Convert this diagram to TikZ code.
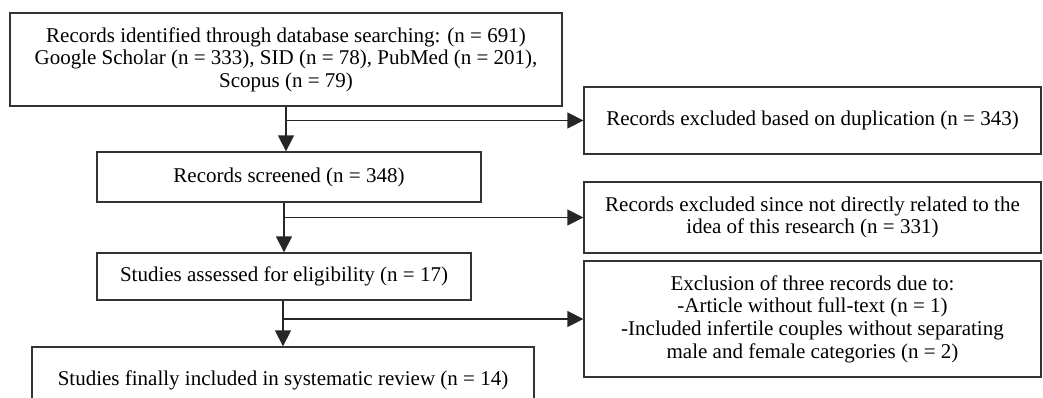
\documentclass[tikz,border=0pt]{standalone}
\usepackage{fontspec}
\setmainfont{Liberation Serif}
\usetikzlibrary{arrows.meta}
\begin{document}
\begin{tikzpicture}[x=1pt,y=-1pt,
  box/.style={draw=black!80,line width=1.3pt,inner sep=0pt,align=center,
    font=\fontsize{21}{22.6}\selectfont},
  arr/.style={draw=black!85,line width=1.3pt,-{Triangle[width=16pt,length=16pt]}},
  ln/.style={draw=black!85,line width=1.3pt}]
\useasboundingbox (0,0) rectangle (1043,397);
\clip (0,0) rectangle (1043,397);
\node[box,minimum width=552pt,minimum height=93pt] (b1) at (286,59.5)
  {Records identified through database searching: (n = 691)\\Google Scholar (n = 333), SID (n = 78), PubMed (n = 201),\\Scopus (n = 79)};
\node[box,minimum width=384pt,minimum height=50pt] (b2) at (289,177) {Records screened (n = 348)};
\node[box,minimum width=374pt,minimum height=47pt] (b3) at (284,276.5) {Studies assessed for eligibility (n = 17)};
\node[box,minimum width=502pt,minimum height=66pt] (b4) at (283,380) {Studies finally included in systematic review (n = 14)};
\node[box,minimum width=457pt,minimum height=67pt] (d1) at (812.5,120.5) {Records excluded based on duplication (n = 343)};
\node[box,minimum width=457pt,minimum height=71pt] (d2) at (812.5,217.5) {Records excluded since not directly related to the\\idea of this research (n = 331)};
\node[box,minimum width=457pt,minimum height=116pt] (d3) at (812.5,319) {Exclusion of three records due to:\\-Article without full-text (n = 1)\\-Included infertile couples without separating\\male and female categories (n = 2)};
\draw[arr] (b1.south) -- (b1.south |- b2.north);
\draw[arr] (b1.south |- d1.west) -- (d1.west);
\draw[arr] (b3.north |- b2.south) -- (b3.north);
\draw[arr] (b3.north |- d2.west) -- (d2.west);
\draw[arr] (b4.north |- b3.south) -- (b4.north);
\draw[arr] (b4.north |- d3.west) -- (d3.west);
\end{tikzpicture}
\end{document}
